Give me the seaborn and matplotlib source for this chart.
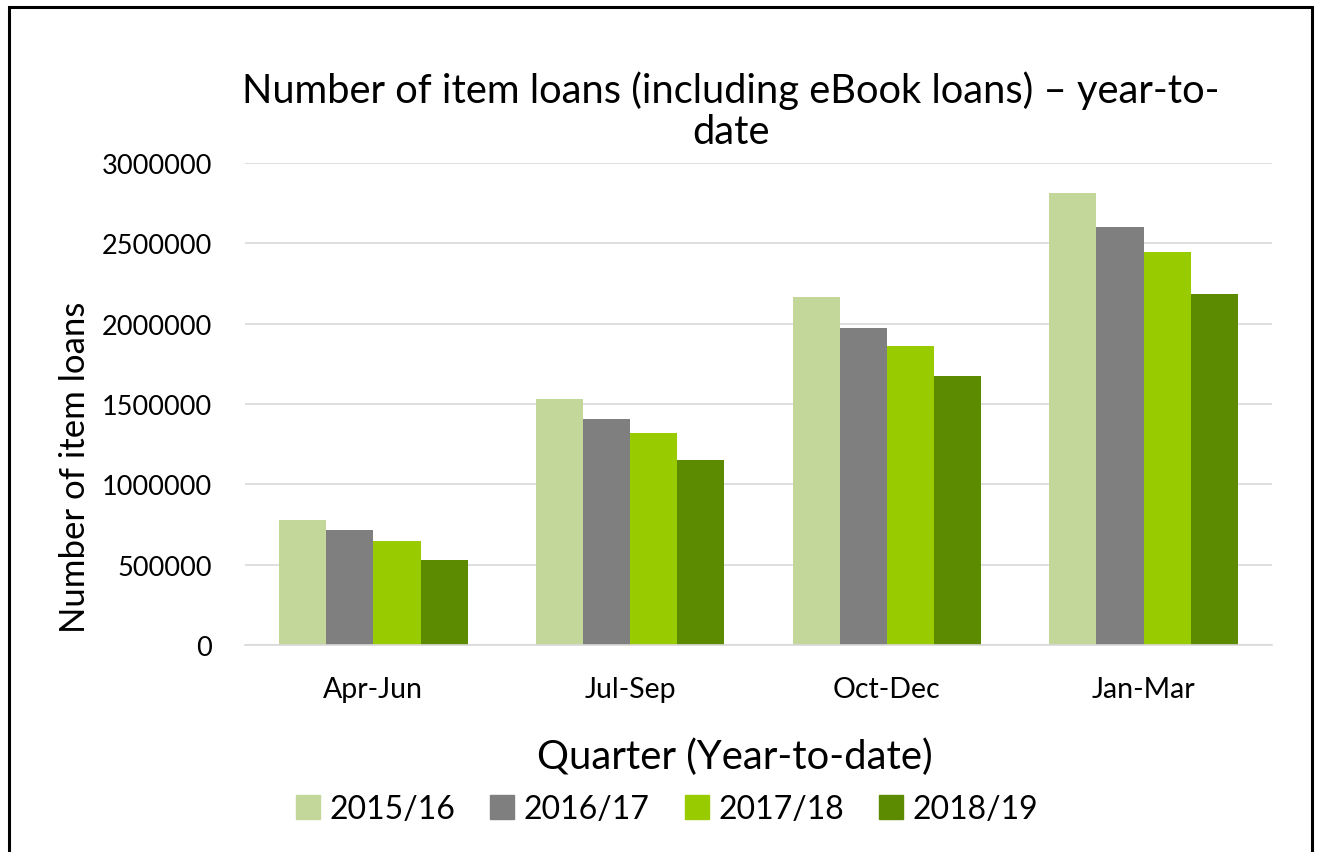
import matplotlib
matplotlib.use("Agg")
import matplotlib.pyplot as plt
import seaborn as sns
import pandas as pd
from matplotlib.patches import Rectangle

quarters = ["Apr-Jun", "Jul-Sep", "Oct-Dec", "Jan-Mar"]
years = ["2015/16", "2016/17", "2017/18", "2018/19"]
loans_2015 = [781000, 1529000, 2164000, 2816000]
loans_2016 = [717000, 1408000, 1973000, 2604000]
loans_2017 = [649000, 1321000, 1860000, 2446000]
loans_2018 = [532000, 1151000, 1672000, 2182000]
colors = ["#C4D79B", "#7F7F7F", "#99CC00", "#5C8A00"]

rows = []
for y, vals in zip(years, [loans_2015, loans_2016, loans_2017, loans_2018]):
    for q, v in zip(quarters, vals):
        rows.append({"Quarter": q, "Year": y, "Loans": v})
df = pd.DataFrame(rows)

sns.set_theme(style="white")
plt.rcParams["font.family"] = ["Lato", "DejaVu Sans"]
plt.rcParams["text.color"] = "black"
plt.rcParams["axes.labelcolor"] = "black"
plt.rcParams["xtick.color"] = "black"
plt.rcParams["ytick.color"] = "black"

fig = plt.figure(figsize=(13.2, 8.53), dpi=100)
ax = fig.add_axes([245/1320, 1-646/853, (1272-245)/1320, (646-164)/853])

sns.barplot(data=df, x="Quarter", y="Loans", hue="Year", order=quarters,
            hue_order=years, palette=colors, width=0.735, linewidth=0,
            errorbar=None, ax=ax, saturation=1)

ax.set_ylim(0, 3000000)
ax.set_yticks(range(0, 3000001, 500000))
ax.set_yticklabels([str(v) for v in range(0, 3000001, 500000)], fontsize=19.5)
ax.tick_params(axis="x", labelsize=20.5, pad=22, length=0)
ax.tick_params(axis="y", pad=24, length=0)
ax.yaxis.grid(True, color="#D9D9D9", linewidth=1.2)
ax.set_axisbelow(True)
for s in ["top", "right", "left"]:
    ax.spines[s].set_visible(False)
ax.spines["bottom"].set_color("#D9D9D9")
ax.spines["bottom"].set_linewidth(1.2)

ax.set_xlabel("Quarter (Year-to-date)", fontsize=28.8)
ax.xaxis.set_label_coords((735-245)/(1272-245), -(757-646)/(646-164))
ax.xaxis.label.set_va("center")
ax.set_ylabel("Number of item loans", fontsize=25)
ax.yaxis.set_label_coords(-(245-75)/(1272-245), (646-467)/(646-164))
ax.yaxis.label.set_va("center")

fig.text(731/1320, 1-111/853, "Number of item loans (including eBook loans) – year-to-\ndate",
         ha="center", va="center", fontsize=28.7, linespacing=1.15)

ax.legend_.remove()
handles = [Rectangle((0, 0), 1, 1, color=c) for c in colors]
fig.legend(handles, years, loc="center", bbox_to_anchor=(667/1320, 1-810/853),
           ncol=4, frameon=False, fontsize=23, handlelength=0.75, handleheight=0.75,
           handletextpad=0.3, columnspacing=1.1)

border = Rectangle((9/1320, -0.05), (1312-9)/1320, (1-8/853) + 0.05,
                   transform=fig.transFigure, fill=False, edgecolor="black",
                   linewidth=2.2, clip_on=False)
fig.patches.append(border)

fig.savefig("out.png", dpi=100)
